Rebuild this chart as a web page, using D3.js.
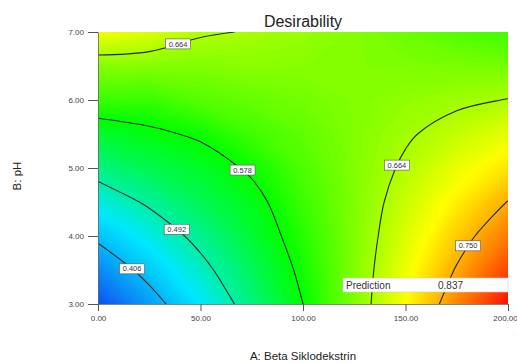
<!DOCTYPE html>
<html>
<head>
<meta charset="utf-8">
<script src="https://cdn.jsdelivr.net/npm/d3@7"></script>
<style>
  body { margin: 0; background: #fff; }
  svg { font-family: "Liberation Sans", Arial, sans-serif; }
</style>
</head>
<body>
<div id="chart"></div>
<script>
// grid of the response surface
const xValues = [0, 25, 50, 75, 100, 125, 150, 175, 200];
const yValues = [3.0, 3.5, 4.0, 4.5, 5.0, 5.5, 6.0, 6.5, 7.0];
// one row per pH value (bottom row first), one column per Beta Siklodekstrin value
const desirability = [
  [0.320, 0.385, 0.449, 0.514, 0.578, 0.643, 0.707, 0.772, 0.836],
  [0.368, 0.423, 0.478, 0.533, 0.588, 0.643, 0.698, 0.753, 0.808],
  [0.416, 0.461, 0.506, 0.552, 0.597, 0.643, 0.688, 0.734, 0.779],
  [0.463, 0.499, 0.535, 0.565, 0.607, 0.643, 0.679, 0.715, 0.751],
  [0.511, 0.538, 0.558, 0.584, 0.617, 0.643, 0.669, 0.696, 0.722],
  [0.553, 0.570, 0.584, 0.609, 0.626, 0.643, 0.660, 0.677, 0.694],
  [0.607, 0.605, 0.621, 0.629, 0.636, 0.643, 0.651, 0.658, 0.665],
  [0.646, 0.645, 0.643, 0.648, 0.646, 0.643, 0.641, 0.639, 0.637],
  [0.702, 0.690, 0.668, 0.662, 0.655, 0.644, 0.632, 0.620, 0.608]
];
const contourLevels = [0.406, 0.492, 0.578, 0.664, 0.750];
// where each contour label sits (data units)
const labelAnchors = [
  { level: 0.406, x: 18, y: 3.57 },
  { level: 0.492, x: 40, y: 4.15 },
  { level: 0.578, x: 70, y: 4.96 },
  { level: 0.664, x: 38.5, y: 6.88 },
  { level: 0.664, x: 145, y: 5.06 },
  { level: 0.750, x: 179.5, y: 3.88 }
];
const xTicks = [0, 50, 100, 150, 200];
const yTicks = [3, 4, 5, 6, 7];
const predictionValue = 0.837;

const width = 517, height = 363;
const margin = { top: 32, right: 9, bottom: 59, left: 98 };

const svg = d3.select("#chart").append("svg")
  .attr("width", width)
  .attr("height", height);

const x = d3.scaleLinear().domain([0, 200]).range([margin.left, width - margin.right]);
const y = d3.scaleLinear().domain([3, 7]).range([height - margin.bottom, margin.top]);

const nx = xValues.length, ny = yValues.length;
const flat = desirability.flat();
// d3.contours puts sample i at grid coordinate i + 0.5
const gx = d3.scaleLinear().domain([0.5, nx - 0.5]).range([x(xValues[0]), x(xValues[nx - 1])]);
const gy = d3.scaleLinear().domain([0.5, ny - 0.5]).range([y(yValues[0]), y(yValues[ny - 1])]);

const [dMin, dMax] = d3.extent(flat);
const color = d3.scaleLinear()
  .domain(d3.range(5).map(k => dMin + k * (dMax - dMin) / 4))
  .range(["#1050f0", "#00e8ff", "#00ff00", "#ffff00", "#ff1000"])
  .interpolate(d3.interpolateRgb);

svg.append("clipPath").attr("id", "plot-clip")
  .append("rect")
  .attr("x", x(0)).attr("y", y(7))
  .attr("width", x(200) - x(0)).attr("height", y(3) - y(7));

const plot = svg.append("g").attr("clip-path", "url(#plot-clip)");

// colour fill from many thin bands
const step = (dMax - dMin) / 160;
const bands = d3.contours().size([nx, ny]).thresholds(d3.range(dMin, dMax, step))(flat);
const proj = d3.geoTransform({
  point: function(px, py) { this.stream.point(gx(px), gy(py)); }
});
const geoPath = d3.geoPath(proj);

plot.append("g").selectAll("path")
  .data(bands)
  .join("path")
  .attr("d", geoPath)
  .attr("fill", d => color(Math.min(dMax, d.value + step / 2)))
  .attr("stroke", d => color(Math.min(dMax, d.value + step / 2)))
  .attr("stroke-width", 0.6);

// iso lines: drop the parts of each ring that run round the grid border
const inside = p => p[0] >= 0.5 - 1e-9 && p[0] <= nx - 0.5 + 1e-9 &&
                    p[1] >= 0.5 - 1e-9 && p[1] <= ny - 0.5 + 1e-9;
function isoLines(contour) {
  const lines = [];
  contour.coordinates.forEach(poly => poly.forEach(ring => {
    let pts = ring.slice();
    const a = pts[0], b = pts[pts.length - 1];
    if (a[0] === b[0] && a[1] === b[1]) pts.pop();
    const start = pts.findIndex(p => !inside(p));
    if (start < 0) { lines.push(pts.concat([pts[0]])); return; }
    let cur = [];
    for (let k = 1; k <= pts.length; k++) {
      const p = pts[(start + k) % pts.length];
      if (inside(p)) cur.push(p);
      else { if (cur.length > 1) lines.push(cur); cur = []; }
    }
    if (cur.length > 1) lines.push(cur);
  }));
  return lines;
}

const isoLine = d3.line()
  .x(p => gx(p[0]))
  .y(p => gy(p[1]))
  .curve(d3.curveCatmullRom.alpha(0.5));

const levelContours = d3.contours().size([nx, ny]).thresholds(contourLevels)(flat);
const linePaths = [];
levelContours.forEach(c => {
  isoLines(c).forEach(pts => linePaths.push({ level: c.value, pts }));
});

const lineNodes = plot.append("g").selectAll("path")
  .data(linePaths)
  .join("path")
  .attr("d", d => isoLine(d.pts))
  .attr("fill", "none")
  .attr("stroke", "#1e2a1e")
  .attr("stroke-width", 1.1);

// contour labels, snapped onto the nearest point of their line
const labelG = svg.append("g");
labelAnchors.forEach(a => {
  const hx = x(a.x), hy = y(a.y);
  let best = null;
  lineNodes.filter(d => d.level === a.level).each(function() {
    const len = this.getTotalLength();
    for (let s = 0; s <= len; s += 1) {
      const p = this.getPointAtLength(s);
      const dist = (p.x - hx) ** 2 + (p.y - hy) ** 2;
      if (!best || dist < best.dist) best = { x: p.x, y: p.y, dist };
    }
  });
  if (!best) best = { x: hx, y: hy };
  const g = labelG.append("g").attr("transform", `translate(${best.x},${best.y})`);
  g.append("rect")
    .attr("x", -12.5).attr("y", -5)
    .attr("width", 25).attr("height", 10)
    .attr("fill", "#fff")
    .attr("stroke", "#555")
    .attr("stroke-width", 0.6);
  g.append("text")
    .attr("text-anchor", "middle")
    .attr("dy", "0.35em")
    .attr("font-size", 7.5)
    .attr("fill", "#334")
    .text(d3.format(".3f")(a.level));
});

// prediction flag box
const box = svg.append("g").attr("transform", `translate(${x(200) - 165},278)`);
box.append("rect")
  .attr("width", 165).attr("height", 14)
  .attr("fill", "#fff")
  .attr("stroke", "#ccc")
  .attr("stroke-width", 0.6);
box.append("text")
  .attr("x", 3).attr("y", 10.5)
  .attr("font-size", 10).attr("fill", "#334")
  .text("Prediction");
box.append("text")
  .attr("x", 95).attr("y", 10.5)
  .attr("font-size", 10).attr("fill", "#334")
  .text(d3.format(".3f")(predictionValue));

// axes
const fmt = d3.format(".2f");
const xAxis = svg.append("g")
  .attr("transform", `translate(0,${y(3)})`)
  .call(d3.axisBottom(x).tickValues(xTicks).tickFormat(fmt).tickSize(7).tickSizeOuter(0).tickPadding(4));
const yAxis = svg.append("g")
  .attr("transform", `translate(${x(0)},0)`)
  .call(d3.axisLeft(y).tickValues(yTicks).tickFormat(fmt).tickSize(10).tickSizeOuter(0).tickPadding(4));
[xAxis, yAxis].forEach(ax => {
  ax.attr("font-family", null).attr("font-size", 8);
  ax.selectAll("text").attr("fill", "#444");
  ax.selectAll("line").attr("stroke", "#555");
  ax.select(".domain").attr("stroke", "#666").attr("stroke-width", 0.8);
});
// keep the last x label inside the window
xAxis.selectAll(".tick text").filter(d => d === 200).attr("dx", -3);

svg.append("text")
  .attr("x", (x(0) + x(200)) / 2).attr("y", 27)
  .attr("text-anchor", "middle")
  .attr("font-size", 16)
  .attr("fill", "#222")
  .text("Desirability");

svg.append("text")
  .attr("x", (x(0) + x(200)) / 2).attr("y", 360)
  .attr("text-anchor", "middle")
  .attr("font-size", 11.5)
  .attr("fill", "#222")
  .text("A: Beta Siklodekstrin");

svg.append("text")
  .attr("transform", `translate(21,${(y(3) + y(7)) / 2 + 8}) rotate(-90)`)
  .attr("text-anchor", "middle")
  .attr("font-size", 11.5)
  .attr("fill", "#222")
  .text("B: pH");
</script>
</body>
</html>
